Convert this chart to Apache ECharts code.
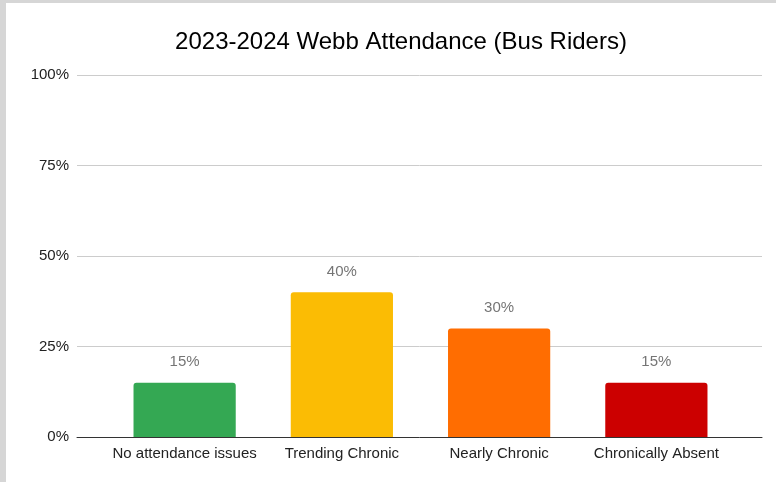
<!DOCTYPE html>
<html>
<head>
<meta charset="utf-8">
<script src="https://cdn.jsdelivr.net/npm/echarts@6/dist/echarts.min.js"></script>
<style>
html,body{margin:0;padding:0;background:#fff;}
#c{width:776px;height:482px;}
</style>
</head>
<body>
<div id="c"></div>
<script>
const titleText = "2023-2024 Webb Attendance (Bus Riders)";
const categories = ["No attendance issues", "Trending Chronic", "Nearly Chronic", "Chronically Absent"];
const values = [15, 40, 30, 15];
const barColors = ["#34a853", "#fbbc04", "#ff6d01", "#cc0000"];
const yTicks = [0, 25, 50, 75, 100];

const chart = echarts.init(document.getElementById('c'), null, {renderer: 'canvas'});
const font = '"Liberation Sans", Arial, Helvetica, sans-serif';
chart.setOption({
  backgroundColor: '#ffffff',
  animation: false,
  textStyle: {fontFamily: font},
  title: {
    text: titleText,
    left: 396, top: 25, textAlign: 'center',
    textStyle: {fontFamily: font, fontSize: 24, fontWeight: 'normal', color: '#000'}
  },
  graphic: [
    {type: 'rect', left: 0, top: 0, shape: {width: 776, height: 3}, style: {fill: '#d6d6d6'}, z: 100},
    {type: 'rect', left: 0, top: 0, shape: {width: 6, height: 482}, style: {fill: '#d6d6d6'}, z: 100}
  ],
  grid: [
    {left: 77, right: 14, top: 75, bottom: 45},
    {left: 106, right: 41, top: 75, bottom: 45}
  ],
  xAxis: [
    {type: 'category', gridIndex: 0, data: [''],
     axisLine: {show: true, lineStyle: {color: '#333', width: 1}},
     axisTick: {show: false}, axisLabel: {show: false}, splitLine: {show: false}},
    {type: 'category', gridIndex: 1, data: categories,
     axisLine: {show: false}, axisTick: {show: false},
     axisLabel: {interval: 0, fontFamily: font, fontSize: 15, color: '#222', margin: 9}}
  ],
  yAxis: [
    {type: 'value', gridIndex: 0, min: yTicks[0], max: yTicks[yTicks.length - 1], interval: 25,
     axisLine: {show: false}, axisTick: {show: false},
     axisLabel: {fontFamily: font, fontSize: 15, color: '#222', margin: 8, formatter: '{value}%'},
     splitLine: {show: true, lineStyle: {color: '#cccccc', width: 1}}},
    {type: 'value', gridIndex: 1, min: 0, max: 100, show: false, splitLine: {show: false}}
  ],
  series: [{
    type: 'bar',
    xAxisIndex: 1, yAxisIndex: 1,
    barWidth: '65%',
    data: values.map((v, i) => ({value: v, itemStyle: {color: barColors[i], borderRadius: [3, 3, 0, 0]}})),
    label: {show: true, position: 'top', distance: 13, formatter: '{c}%',
            fontFamily: font, fontSize: 15, color: '#757575'}
  }]
});
</script>
</body>
</html>
